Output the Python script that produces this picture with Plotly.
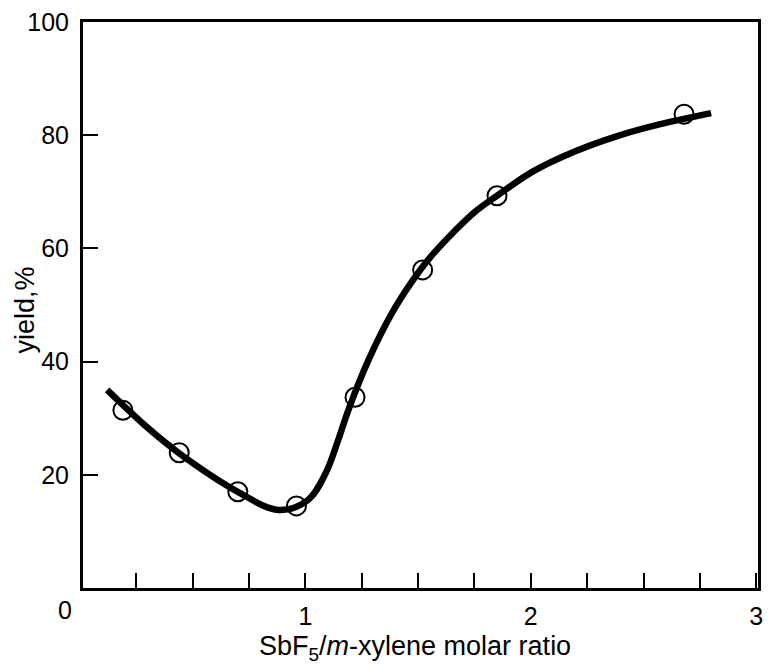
import plotly.graph_objects as go

# measured points
ratio = [0.19, 0.44, 0.70, 0.96, 1.22, 1.52, 1.85, 2.68]
yield_pct = [31.4, 23.9, 17.0, 14.5, 33.7, 56.2, 69.3, 83.7]

# smooth fitted curve (traced)
curve_x = [0.12, 0.30, 0.44, 0.70, 0.88, 1.01, 1.09, 1.145, 1.19, 1.28, 1.38,
           1.47, 1.555, 1.66, 1.75, 1.85, 2.01, 2.20, 2.38, 2.57, 2.80]
curve_y = [35.0, 28.3, 23.8, 17.0, 13.8, 15.5, 20.3, 26.1, 31.4, 40.3, 48.3,
           54.0, 58.5, 63.0, 66.4, 69.3, 73.6, 77.2, 79.8, 81.9, 83.9]

x_tickvals = [1, 2, 3]
x_ticktext = ["1", "2", "3"]
y_tickvals = [20, 40, 60, 80, 100]
y_ticktext = ["20", "40", "60", "80", "100"]

FONT = "Liberation Sans, Arial, sans-serif"

fig = go.Figure()
fig.add_trace(go.Scatter(
    x=curve_x, y=curve_y, mode="lines",
    line=dict(color="black", width=6.5, shape="spline", smoothing=1.0),
    hoverinfo="skip", showlegend=False))
fig.add_trace(go.Scatter(
    x=ratio, y=yield_pct, mode="markers",
    marker=dict(symbol="circle-open", size=19, color="black",
                line=dict(color="black", width=2)),
    showlegend=False))

fig.update_layout(
    width=771, height=664,
    margin=dict(l=83, r=8, t=22, b=76),
    paper_bgcolor="white", plot_bgcolor="white",
    font=dict(family=FONT, size=25, color="black"),
    xaxis=dict(range=[0.013, 3.008], tickvals=x_tickvals, ticktext=x_ticktext,
               ticks="inside", ticklen=15, tickwidth=2, tickcolor="black",
               minor=dict(tick0=0, dtick=0.25, ticks="inside", ticklen=15,
                          tickwidth=2, tickcolor="black", showgrid=False),
               showline=True, linewidth=3, linecolor="black", mirror=True,
               showgrid=False, zeroline=False, ticklabelstandoff=4,
               tickfont=dict(size=25)),
    yaxis=dict(range=[0, 100], tickvals=y_tickvals, ticktext=y_ticktext,
               ticks="inside", ticklen=15, tickwidth=2, tickcolor="black",
               showline=True, linewidth=3, linecolor="black", mirror=True,
               showgrid=False, zeroline=False, ticklabelstandoff=6,
               tickfont=dict(size=25)),
    annotations=[
        dict(text="0", xref="paper", yref="paper", x=(65 - 83) / 680, y=0,
             xanchor="center", yanchor="top", yshift=-6, showarrow=False,
             font=dict(size=25)),
        dict(text="SbF<sub>5</sub>/<i>m</i>-xylene molar ratio", xref="paper", yref="paper",
             x=(417 - 83) / 680, y=0, xanchor="center", yanchor="middle",
             yshift=-60, showarrow=False, font=dict(size=27)),
        dict(text="yield,%", xref="paper", yref="paper",
             x=(25 - 83) / 680, y=(588 - 310) / 566, xanchor="center", yanchor="middle",
             textangle=-90, showarrow=False, font=dict(size=27)),
    ],
)

fig.write_html("out.html")
